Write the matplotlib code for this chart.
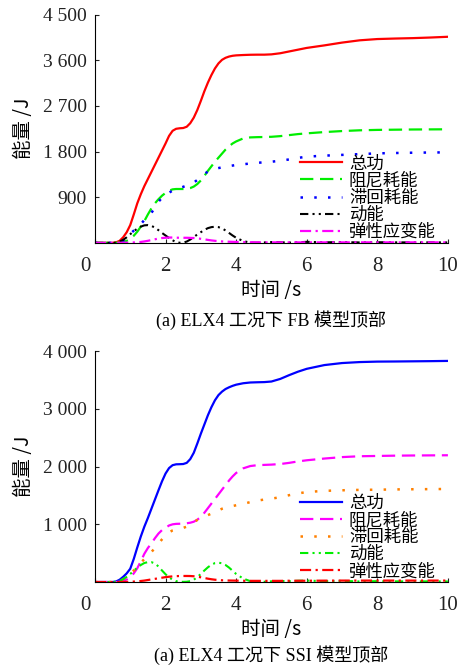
import matplotlib
matplotlib.use("Agg")
import matplotlib.pyplot as plt
from matplotlib.ticker import FuncFormatter
from matplotlib.transforms import ScaledTranslation

plt.rcParams['font.family'] = ['Liberation Serif', 'Noto Sans CJK SC', 'DejaVu Sans']

t = [0, 0.5, 0.6, 0.7, 0.8, 0.9, 1.0, 1.1, 1.2, 1.3, 1.4, 1.5, 1.6, 1.7, 1.8, 1.9,
     2.0, 2.1, 2.2, 2.3, 2.4, 2.5, 2.6, 2.7, 2.8, 2.9, 3.0, 3.1, 3.2, 3.3, 3.4, 3.5,
     3.6, 3.7, 3.8, 3.9, 4.0, 4.2, 4.4, 4.6, 4.8, 5.0, 5.25, 5.5, 5.75, 6.0, 6.5,
     7.0, 7.5, 8.0, 8.5, 9.0, 9.5, 10.0]

labels = ["总功", "阻尼耗能", "滞回耗能", "动能", "弹性应变能"]

# (a) FB model
fb_total = [0, 0, 10, 40, 110, 210, 350, 560, 780, 960, 1120, 1260, 1400, 1540, 1680, 1820,
            1960, 2110, 2210, 2250, 2260, 2265, 2290, 2360, 2470, 2620, 2800, 2990, 3160, 3310, 3440, 3540,
            3610, 3650, 3675, 3690, 3698, 3705, 3710, 3712, 3712, 3718, 3740, 3775, 3810, 3845, 3895,
            3950, 3995, 4020, 4030, 4038, 4050, 4065]
fb_damp = [0, 0, 0, 5, 15, 40, 80, 140, 220, 320, 430, 560, 680, 780, 860, 930,
           985, 1030, 1055, 1062, 1062, 1062, 1065, 1080, 1110, 1160, 1230, 1320, 1420, 1510, 1600, 1680,
           1760, 1840, 1905, 1960, 2000, 2060, 2080, 2085, 2088, 2092, 2105, 2125, 2145, 2160, 2185,
           2205, 2220, 2228, 2232, 2236, 2238, 2240]
fb_hyst = [0, 0, 2, 10, 40, 100, 180, 240, 290, 370, 450, 520, 590, 700, 810, 890,
           945, 990, 1030, 1060, 1085, 1105, 1130, 1160, 1190, 1240, 1300, 1360, 1405, 1440, 1460, 1475,
           1490, 1505, 1515, 1525, 1535, 1550, 1565, 1578, 1590, 1600, 1620, 1645, 1675, 1700, 1720,
           1735, 1750, 1765, 1772, 1778, 1782, 1785]
fb_kin = [0, 0, 5, 25, 60, 110, 170, 230, 280, 320, 345, 350, 335, 300, 250, 195,
          145, 95, 50, 15, 2, 5, 25, 65, 115, 165, 210, 255, 290, 310, 318, 310,
          285, 245, 195, 145, 100, 35, 5, 2, 8, 15, 12, 5, 10, 20, 10,
          15, 8, 12, 10, 8, 10, 8]
fb_elas = [0, 0, 0, 1, 2, 3, 5, 8, 12, 18, 28, 40, 55, 70, 85, 95,
           100, 105, 105, 102, 100, 100, 100, 98, 95, 88, 80, 70, 58, 48, 40, 33,
           28, 25, 22, 20, 18, 15, 12, 10, 10, 10, 10, 10, 10, 10, 10,
           10, 10, 10, 10, 10, 10, 10]

# (a) SSI model
ssi_total = [0, 0, 10, 40, 90, 150, 230, 400, 600, 790, 960, 1110, 1270, 1430, 1590, 1745,
             1880, 1975, 2025, 2040, 2042, 2045, 2065, 2130, 2240, 2400, 2570, 2730, 2890, 3030, 3150, 3240,
             3300, 3345, 3375, 3400, 3420, 3445, 3458, 3462, 3465, 3475, 3520, 3585, 3645, 3695, 3760,
             3795, 3812, 3820, 3822, 3825, 3828, 3832]
ssi_damp = [0, 0, 0, 5, 20, 45, 85, 150, 240, 360, 490, 590, 670, 760, 840, 900,
            940, 980, 1000, 1008, 1010, 1012, 1018, 1028, 1045, 1080, 1130, 1200, 1280, 1360, 1440, 1520,
            1600, 1680, 1760, 1830, 1890, 1970, 2010, 2025, 2030, 2035, 2045, 2065, 2090, 2110, 2140,
            2165, 2180, 2185, 2190, 2193, 2195, 2197]
ssi_hyst = [0, 0, 5, 20, 50, 90, 140, 200, 260, 330, 400, 460, 520, 590, 665, 740,
            810, 860, 895, 915, 928, 938, 960, 995, 1040, 1075, 1100, 1130, 1160, 1185, 1210, 1240,
            1270, 1290, 1305, 1318, 1330, 1355, 1385, 1410, 1430, 1445, 1470, 1505, 1535, 1560, 1580,
            1590, 1597, 1600, 1605, 1608, 1610, 1613]
ssi_kin = [0, 0, 5, 20, 50, 90, 140, 195, 250, 295, 330, 345, 345, 320, 270, 200,
           135, 80, 40, 15, 5, 3, 5, 15, 40, 85, 140, 200, 255, 300, 328, 335,
           325, 295, 250, 195, 140, 60, 15, 3, 5, 12, 18, 15, 22, 25, 15,
           20, 10, 15, 12, 10, 12, 10]
ssi_elas = [0, 0, 0, 0, 2, 3, 5, 8, 12, 18, 25, 35, 45, 55, 65, 75,
            85, 92, 98, 102, 104, 105, 105, 104, 100, 92, 82, 70, 58, 48, 40, 35,
            30, 28, 26, 25, 24, 22, 20, 20, 20, 20, 20, 22, 22, 22, 24,
            25, 25, 25, 25, 25, 25, 25]

fb_yticks = [900, 1800, 2700, 3600, 4500]
ssi_yticks = [1000, 2000, 3000, 4000]
xticks = [0, 2, 4, 6, 8, 10]

styles = [dict(ls='-', lw=1.6),
          dict(ls=(0, (6, 3)), lw=1.6),
          dict(ls=(0, (1, 4.5)), lw=1.8),
          dict(ls=(0, (4, 2, 1, 2, 1, 2)), lw=1.5),
          dict(ls=(0, (5, 2, 1, 2)), lw=1.6)]

fb_colors = ['#ff0000', '#00ee00', '#0000ff', '#000000', '#ff00ff']
ssi_colors = ['#0000ff', '#ff00ff', '#ff8000', '#00ee00', '#ff0000']

fig = plt.figure(figsize=(4.7, 6.69), dpi=100)
CJK = ['Noto Sans CJK SC', 'DejaVu Sans']

def thousands(v, pos):
    v = int(round(v))
    if v >= 1000:
        return f"{v // 1000} {v % 1000:03d}"
    return str(v)

def panel(rect, series, colors, yticks, ymax, caption, cap_y):
    ax = fig.add_axes(rect)
    for s, c, st, lab in zip(series, colors, styles, labels):
        ax.plot(t, s, color=c, label=lab, **st)
    ax.set_xlim(0, 10)
    ax.set_ylim(0, ymax)
    ax.set_xticks(xticks)
    ax.set_yticks(yticks)
    ax.yaxis.set_major_formatter(FuncFormatter(thousands))
    ax.spines['top'].set_visible(False)
    ax.spines['right'].set_visible(False)
    ax.spines['left'].set_linewidth(0.8)
    ax.spines['bottom'].set_linewidth(0.8)
    ax.tick_params(direction='in', length=3, width=0.8, labelsize=14, pad=6, colors='#222222')
    ax.tick_params(axis='x', pad=10)
    xl = ax.get_xticklabels()
    for lab in xl:
        lab.set_fontsize(15)
    xl[0].set_transform(xl[0].get_transform() + ScaledTranslation(-0.1, 0, fig.dpi_scale_trans))
    ax.set_xlabel("时间 /s", fontsize=14, family=CJK, labelpad=3)
    ax.set_ylabel("能量 /J", fontsize=14, family=CJK, labelpad=6)
    ax.legend(loc='lower right', bbox_to_anchor=(1.0, -0.045), frameon=False,
              prop={'family': CJK, 'size': 12.5},
              handlelength=2.4, handletextpad=0.4, labelspacing=-0.05,
              borderpad=0.2)
    ax.text(0.5, cap_y, caption, transform=ax.transAxes, ha='center', va='center',
            fontsize=13, family=['Liberation Serif', 'Noto Sans CJK SC', 'DejaVu Sans'])
    return ax

panel([0.202, 0.637, 0.751, 0.341],
      [fb_total, fb_damp, fb_hyst, fb_kin, fb_elas], fb_colors, fb_yticks, 4500,
      "(a) ELX4 工况下 FB 模型顶部", -0.34)
panel([0.202, 0.130, 0.751, 0.345],
      [ssi_total, ssi_damp, ssi_hyst, ssi_kin, ssi_elas], ssi_colors, ssi_yticks, 4000,
      "(a) ELX4 工况下 SSI 模型顶部", -0.315)

fig.savefig("out.png", dpi=100)
